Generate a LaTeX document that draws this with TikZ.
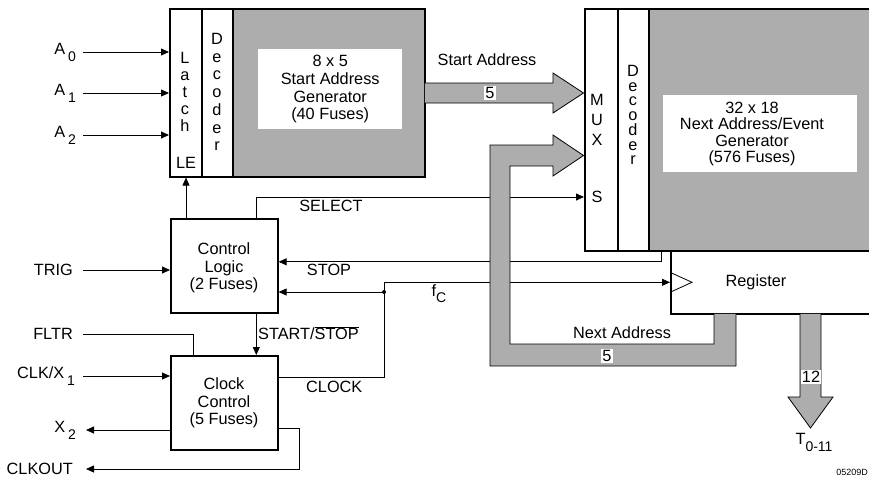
\documentclass[tikz,border=0pt]{standalone}
\usepackage{fontspec}
\setmainfont{Liberation Sans}
\usetikzlibrary{arrows.meta}
\definecolor{shade}{gray}{0.68}
\newcommand{\subtxt}[2][7pt]{\raisebox{-#1}{\fontsize{14}{14}\selectfont #2}}

\begin{document}
\begin{tikzpicture}[x=1pt,y=-1pt,>={Triangle[length=8pt,width=7pt]},
  font=\fontsize{16.3}{17.7}\selectfont,
  blk/.style={draw,line width=1.6pt,inner sep=0pt,anchor=north west},
  inner/.style={fill=white,inner sep=0pt,anchor=north west,align=center},
  sig/.style={line width=0.8pt},
  bus/.style={draw,line width=0.8pt,fill=shade},
  buslbl/.style={fill=white,inner sep=1.2pt},
  vert/.style={align=center,inner sep=0pt}]
  \useasboundingbox (0,0) rectangle (869,477);
  \coordinate (lx) at (83,0);
  \coordinate (ox) at (86,0);

  % start address block
  \node[blk,minimum width=32pt,minimum height=168pt] (latch) at (169,8) {};
  \node[blk,minimum width=31pt,minimum height=168pt] (dec1) at (201,8) {};
  \node[blk,fill=shade,minimum width=192pt,minimum height=168pt] (gen1) at (232,8) {};
  \node[inner,minimum width=144pt,minimum height=80pt] (gen1in) at (258,49)
    {8 x 5\\Start Address\\Generator\\(40 Fuses)};
  \node[vert,font=\fontsize{16.3}{17}\selectfont] (latchtxt) at (185,92) {L\\a\\t\\c\\h};
  \node[inner sep=0pt] (le) at (186,163) {LE};
  \node[vert] (dec1txt) at (217,92) {D\\e\\c\\o\\d\\e\\r};

  % next address block
  \node[blk,minimum width=33pt,minimum height=242pt] (mux) at (584,8) {};
  \node[blk,minimum width=31pt,minimum height=242pt] (dec2) at (617,8) {};
  \node[blk,fill=shade,minimum width=240pt,minimum height=242pt] (gen2) at (648,8) {};
  \node[inner,minimum width=194pt,minimum height=77pt] (gen2in) at (663,95) {};
  \node[vert,font=\fontsize{16.3}{16.5}\selectfont] (gen2txt) at (752,134)
    {32 x 18\\Next Address/Event\\Generator\\(576 Fuses)};
  \node[vert,font=\fontsize{16.3}{20}\selectfont] (muxtxt) at (597,120) {M\\U\\X};
  \node[inner sep=0pt] (muxs) at (597,197) {S};
  \node[vert,font=\fontsize{16.3}{14.7}\selectfont] (dec2txt) at (633,115) {D\\e\\c\\o\\d\\e\\r};
  \node[blk,minimum width=230pt,minimum height=63pt] (reg) at (670,250) {};
  \node[inner sep=0pt] (regtxt) at (756,282) {Register};
  \draw[sig] (reg.west) ++(0,10pt) -- ++(22pt,-10pt) -- ++(-22pt,-10pt);

  % control and clock
  \node[blk,minimum width=107pt,minimum height=94pt] (ctl) at (170,218) {};
  \node[vert] (ctltxt) at (224,268) {Control\\Logic\\(2 Fuses)};
  \node[blk,minimum width=107pt,minimum height=94pt] (clk) at (170,355) {};
  \node[vert] (clktxt) at (224,403) {Clock\\Control\\(5 Fuses)};

  % inputs and outputs
  \node[anchor=east,inner sep=0pt] (a0) at (76,52) {A\,\subtxt{0}};
  \node[anchor=east,inner sep=0pt] (a1) at (76,93) {A\,\subtxt{1}};
  \node[anchor=east,inner sep=0pt] (a2) at (76,135) {A\,\subtxt{2}};
  \node[anchor=east,inner sep=0pt] (trig) at (73,270) {TRIG};
  \node[anchor=east,inner sep=0pt] (fltr) at (73,334) {FLTR};
  \node[anchor=east,inner sep=0pt] (clkx1) at (75,376) {CLK/X\,\subtxt{1}};
  \node[anchor=east,inner sep=0pt] (x2) at (76,430) {X\,\subtxt{2}};
  \node[anchor=east,inner sep=0pt] (clkout) at (73,469) {CLKOUT};

  \draw[sig,->] (a0.east -| lx) -- (a0.east -| latch.west);
  \draw[sig,->] (a1.east -| lx) -- (a1.east -| latch.west);
  \draw[sig,->] (a2.east -| lx) -- (a2.east -| latch.west);
  \draw[sig,->] (trig.east -| lx) -- (trig.east -| ctl.west);
  \draw[sig] (fltr.east -| lx) -| ([xshift=-31pt]clk.north);
  \draw[sig,->] (clkx1.east -| lx) -- (clkx1.east -| clk.west);
  \draw[sig,->] (x2.east -| clk.west) -- (x2.east -| ox);
  \draw[sig,->] ([yshift=-26pt]clk.east) -- ++(21pt,0) |- (clkout.east -| ox);

  % internal signals
  \draw[sig,->] (ctl.north -| le) -- (latch.south -| le);
  \draw[sig,->] ([xshift=32pt]ctl.north) |- (mux.west |- muxs);
  \node[inner sep=0pt] (selectlbl) at (331,206) {SELECT};
  \draw[sig,->] ([xshift=13pt]gen2.south west) |- ([yshift=4pt]ctl.east);
  \node[inner sep=0pt] (stoplbl) at (329,270) {STOP};
  \coordinate (jn) at (384,292);
  \draw[sig,->] (jn) -- (jn -| ctl.east);
  \draw[sig,->] (jn) |- (reg.west);
  \fill (jn) circle (2pt);
  \node[inner sep=0pt] (fclbl) at (439,294) {f\subtxt[6pt]{C}};
  \draw[sig,->] ([xshift=32pt]ctl.south) -- ([xshift=32pt]clk.north);
  \node[anchor=west,inner sep=0pt] (sslbl) at (258,333) {START/$\overline{\mbox{STOP}}$};
  \draw[sig] ([yshift=25pt]clk.east) -| (jn);
  \node[anchor=west,inner sep=0pt] (clocklbl) at (306,387) {CLOCK};

  % buses
  \filldraw[bus] (424.8,83) -- (553,83) -- (553,73) -- (583.5,93) -- (553,113)
    -- (553,103) -- (424.8,103);
  \node[buslbl] (sa5) at (490,93) {5};
  \node[inner sep=0pt] (salbl) at (487,60) {Start Address};
  \filldraw[bus] (714,313.8) -- (714,344) -- (510,344) -- (510,166) -- (553,166)
    -- (553,176) -- (583.5,155.5) -- (553,135) -- (553,145) -- (490,145)
    -- (490,366) -- (736,366) -- (736,313.8);
  \node[buslbl] (na5) at (607,356) {5};
  \node[inner sep=0pt] (nalbl) at (622,333) {Next Address};
  \filldraw[bus] (800,313.8) -- (800,397) -- (788,397) -- (810.5,428) -- (833,397)
    -- (821,397) -- (821,313.8);
  \node[buslbl] (t12) at (811,377) {12};
  \node[inner sep=0pt] (tout) at (814,442) {T\subtxt{0-11}};
  \node[anchor=south east,inner sep=0pt,font=\fontsize{9}{9}\selectfont] (figid) at (868,476) {05209D};
\end{tikzpicture}
\end{document}
